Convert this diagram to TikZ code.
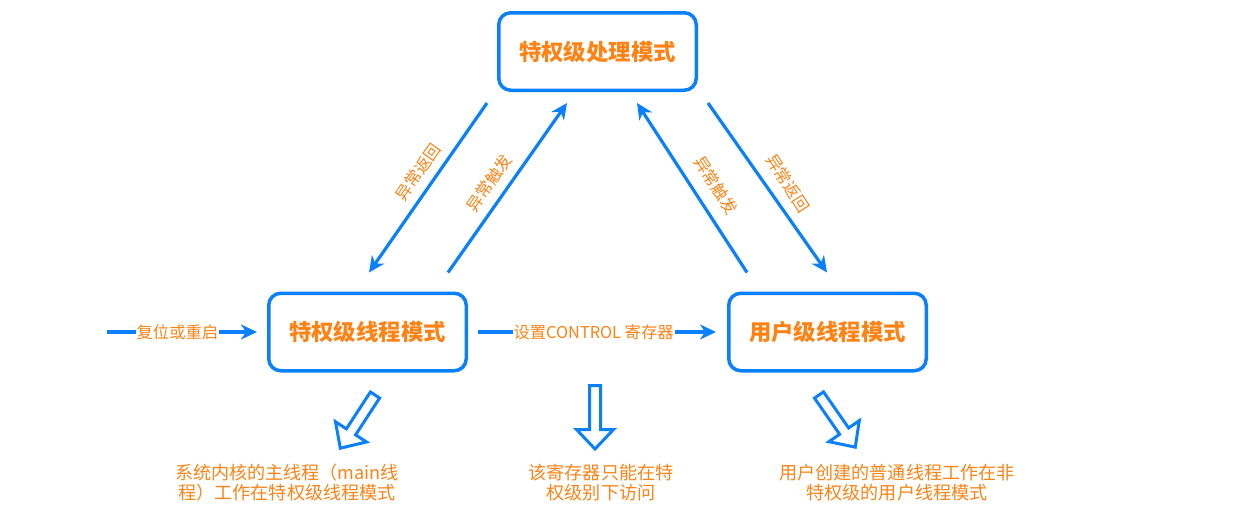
\documentclass[tikz,border=0pt]{standalone}
\usepackage{fontspec}
\setmainfont{Noto Sans CJK SC}
\usetikzlibrary{arrows.meta,calc}
\definecolor{eblue}{HTML}{0A80FA}
\definecolor{eorange}{HTML}{FF8214}
\tikzset{
  modebox/.style={draw=eblue, line width=3.5pt, rounded corners=12pt,
    minimum width=197.5pt, minimum height=77.5pt,
    font=\fontsize{22.4}{25}\selectfont\bfseries, text=eorange},
  conn/.style={draw=eblue, line width=3.2pt, -{Stealth[length=16pt,width=15pt,inset=5pt]}},
  lbl/.style={text=eorange, font=\fontsize{16.3}{19}\selectfont, inner sep=1pt},
  note/.style={text=eorange, font=\fontsize{18.1}{20}\selectfont, align=center, inner sep=0pt},
  hollow/.style={draw=eblue, line width=3pt, line join=miter, fill=white},
  pics/blockarrow/.style={code={
    \draw[hollow] (0,-5.5) -- (44,-5.5) -- (44,-18.5) -- (63.5,0) -- (44,18.5) -- (44,5.5) -- (0,5.5) -- cycle;}}
}
\begin{document}
\begin{tikzpicture}[x=1pt,y=-1pt]
\useasboundingbox (0,0) rectangle (1249,517);

% mode boxes
\node[modebox] (top)   at (597.5,51.5) {特权级处理模式};
\node[modebox] (left)  at (367.5,332)  {特权级线程模式};
\node[modebox] (right) at (827.5,332)  {用户级线程模式};

% diagonal connectors
\coordinate (a1s) at ($(top.south)+(-110.5,11)$);
\coordinate (a1e) at ($(left.north)+(1.5,-19)$);
\coordinate (a2s) at ($(left.north)+(80.5,-19)$);
\coordinate (a2e) at ($(top.south)+(-30.5,11)$);
\coordinate (a3s) at ($(right.north)+(-80.5,-19)$);
\coordinate (a3e) at ($(top.south)+(39.5,11)$);
\coordinate (a4s) at ($(top.south)+(110.5,11)$);
\coordinate (a4e) at ($(right.north)+(-0.5,-19)$);
\draw[conn] (a1s) -- (a1e);
\draw[conn] (a2s) -- (a2e);
\draw[conn] (a3s) -- (a3e);
\draw[conn] (a4s) -- (a4e);

\node[lbl, rotate=55]  (l1) at (418,172) {异常返回};
\node[lbl, rotate=55]  (l2) at (489,183) {异常触发};
\node[lbl, rotate=-57] (l3) at (716,185) {异常触发};
\node[lbl, rotate=-57] (l4) at (788,183) {异常返回};

% horizontal connectors
\coordinate (rst) at (107,332);
\draw[conn, shorten >=10pt] (rst) -- (left.west)
  node[lbl, pos=0.44, fill=white] (l5) {复位或重启};
\draw[conn, shorten <=10pt, shorten >=11pt] (left.east) -- (right.west)
  node[lbl, pos=0.485, fill=white] (l6) {设置CONTROL 寄存器};

% hollow block arrows
\pic[rotate=-123.1] (ha1) at (375,395) {blockarrow};
\pic[rotate=-90]    (ha2) at (595,385.5) {blockarrow};
\pic[rotate=-55.2]  (ha3) at (819,395) {blockarrow};

% notes
\node[note] (n1) at (287,483) {系统内核的主线程（main线\\程）工作在特权级线程模式};
\node[note] (n2) at (601,483) {该寄存器只能在特\\权级别下访问};
\node[note] (n3) at (897,483) {用户创建的普通线程工作在非\\特权级的用户线程模式};
\end{tikzpicture}
\end{document}
